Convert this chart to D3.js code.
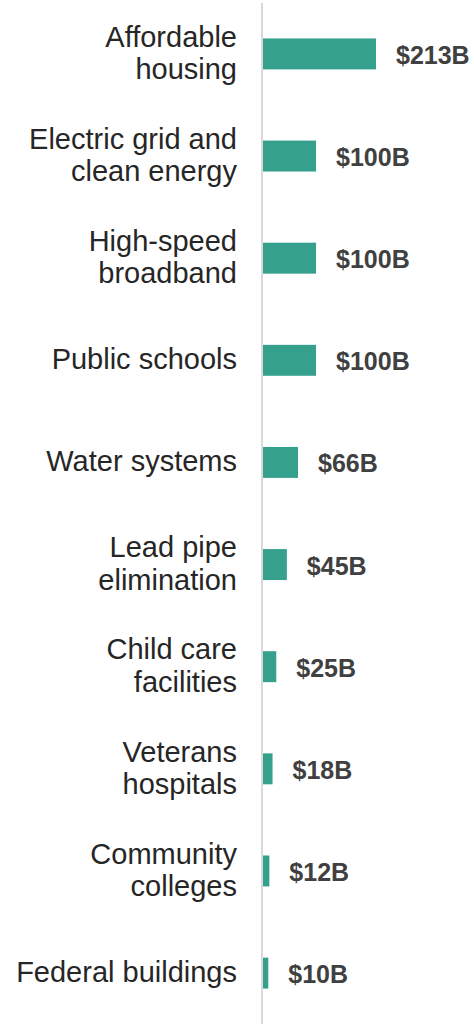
<!DOCTYPE html>
<html>
<head>
<meta charset="utf-8">
<script src="https://cdn.jsdelivr.net/npm/d3@7"></script>
<style>
  body { margin: 0; background: white; }
  svg { display: block; font-family: "Liberation Sans", Arial, sans-serif; }
</style>
</head>
<body>
<div id="chart"></div>
<script>
'use strict';

// category labels, one entry per line of text
const categories = [
  ['Affordable', 'housing'],
  ['Electric grid and', 'clean energy'],
  ['High-speed', 'broadband'],
  ['Public schools'],
  ['Water systems'],
  ['Lead pipe', 'elimination'],
  ['Child care', 'facilities'],
  ['Veterans', 'hospitals'],
  ['Community', 'colleges'],
  ['Federal buildings'],
];
// billions of dollars
const amounts = [213, 100, 100, 100, 66, 45, 25, 18, 12, 10];
const valueLabels = ['$213B', '$100B', '$100B', '$100B', '$66B', '$45B', '$25B', '$18B', '$12B', '$10B'];

const width = 474, height = 1028;
const barColor = '#35a08c';
const axisX = 262;

const svg = d3.select('#chart').append('svg')
  .attr('width', width)
  .attr('height', height);

const rows = d3.range(categories.length);

const y = d3.scaleBand()
  .domain(rows)
  .range([3, 1024])
  .paddingInner(0.697)
  .paddingOuter(0.347);

const x = d3.scaleLinear()
  .domain([0, 213])
  .range([axisX + 1, 376]);

// vertical baseline
svg.append('line')
  .attr('x1', axisX).attr('x2', axisX)
  .attr('y1', y.range()[0]).attr('y2', y.range()[1])
  .attr('stroke', '#d9d9d9')
  .attr('stroke-width', 2);

const rowG = svg.selectAll('g.row')
  .data(rows)
  .enter().append('g')
    .attr('class', 'row');

rowG.append('rect')
  .attr('x', x(0))
  .attr('y', i => y(i))
  .attr('width', i => x(amounts[i]) - x(0))
  .attr('height', y.bandwidth())
  .attr('fill', barColor);

rowG.append('text')
  .attr('x', i => x(amounts[i]) + 20)
  .attr('y', i => y(i) + y.bandwidth() / 2 + 10)
  .attr('font-size', 25)
  .attr('font-weight', 'bold')
  .attr('fill', '#404040')
  .text(i => valueLabels[i]);

const lineGap = 32.6;
rowG.append('text')
  .attr('text-anchor', 'end')
  .attr('font-size', 29)
  .attr('fill', '#262626')
  .each(function (i) {
    const lines = categories[i];
    const mid = y(i) + y.bandwidth() / 2;
    d3.select(this).selectAll('tspan')
      .data(lines)
      .enter().append('tspan')
        .attr('x', 237)
        .attr('y', (d, j) => mid + 9 + (j - (lines.length - 1) / 2) * lineGap)
        .text(d => d);
  });
</script>
</body>
</html>
